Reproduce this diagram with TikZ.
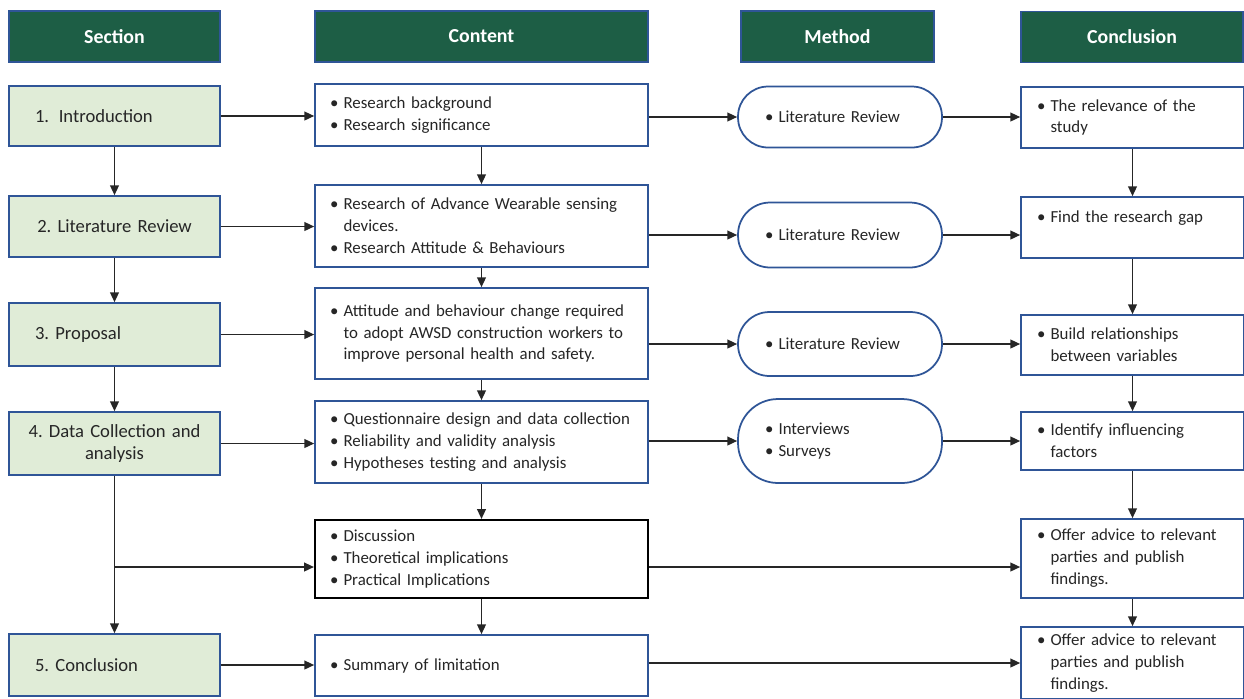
\documentclass[tikz,border=0pt]{standalone}
\usepackage{fontspec}
\setmainfont{Carlito}
\usetikzlibrary{arrows.meta,positioning}
\definecolor{hdrgreen}{HTML}{1D5E45}
\definecolor{secgreen}{HTML}{E0ECD7}
\definecolor{bordblue}{HTML}{2F5597}
\definecolor{txtgray}{HTML}{262626}
\newcommand{\bl}{\makebox[0.8em][l]{\textbullet}}
\newcommand{\ind}{\hspace*{0.8em}}
\frenchspacing
\begin{document}
\begin{tikzpicture}[x=0.02cm, y=-0.02cm,
  hdr/.style={draw=bordblue, line width=0.8pt, fill=hdrgreen, text=white, font=\fontsize{11.3}{13}\selectfont\bfseries, minimum height=1.02cm, inner sep=0pt},
  secbox/.style={draw=bordblue, line width=1pt, fill=secgreen, text=txtgray, font=\fontsize{10.6}{13}\selectfont, minimum width=4.22cm, text width=3.18cm, inner xsep=0.52cm, inner ysep=0pt, align=left},
  cntbox/.style={draw=bordblue, line width=1pt, fill=white, text=txtgray, font=\fontsize{9.6}{12.5}\selectfont, text width=6.06cm, inner xsep=0.3cm, inner ysep=0pt, align=left},
  mthbox/.style={draw=bordblue, line width=1pt, fill=white, text=txtgray, font=\fontsize{9.6}{12.5}\selectfont, text width=3cm, inner xsep=0.54cm, inner ysep=0pt, align=left},
  cncbox/.style={draw=bordblue, line width=1pt, fill=white, text=txtgray, font=\fontsize{9.6}{12.5}\selectfont, text width=3.82cm, inner xsep=0.32cm, inner ysep=0pt, align=left},
  arr/.style={-{Triangle[length=5.5pt,width=5pt]}, line width=0.7pt, draw=black!85}]
\useasboundingbox (0,0) rectangle (1244,698);
% headers
\node[hdr, minimum width=4.22cm] (hsec) at (114.5,36.5) {Section};
\node[hdr, minimum width=6.66cm] (hcnt) at (481.5,36.5) {Content};
\node[hdr, minimum width=3.86cm] (hmth) at (837.5,36.5) {Method};
\node[hdr, minimum width=4.44cm] (hcnc) at (1132,37) {Conclusion};
% section column
\node[secbox, minimum height=1.2cm] (s1) at (114.5,116) {1.\hspace{5.5pt}Introduction};
\node[secbox, align=center, minimum height=1.22cm] (s2) at (114.5,226.5) {2. Literature Review};
\node[secbox, minimum height=1.26cm] (s3) at (114.5,334.5) {3. Proposal};
\node[secbox, align=center, text width=3.8cm, inner xsep=0.21cm, minimum height=1.26cm] (s4) at (114.5,443.5) {4. Data Collection and\\analysis};
\node[secbox, minimum height=1.24cm] (s5) at (114.5,665) {5. Conclusion};
\coordinate (br) at (114.5,567);
% content column
\node[cntbox, minimum height=1.24cm] (c1) at (481.5,115) {\bl Research background\\\bl Research significance};
\node[cntbox, minimum height=1.64cm] (c2) at (481.5,226) {\bl Research of Advance Wearable sensing\\\ind devices.\\\bl Research Attitude \& Behaviours};
\node[cntbox, minimum height=1.82cm] (c3) at (481.5,333.5) {\bl Attitude and behaviour change required\\\ind to adopt AWSD construction workers to\\\ind improve personal health and safety.};
\node[cntbox, minimum height=1.64cm] (c4) at (481.5,442) {\bl Questionnaire design and data collection\\\bl Reliability and validity analysis\\\bl Hypotheses testing and analysis};
\node[cntbox, draw=black, line width=1.3pt, minimum height=1.56cm] (c5) at (481.5,559) {\bl Discussion\\\bl Theoretical implications\\\bl Practical Implications};
\node[cntbox, minimum height=1.22cm] (c6) at (481.5,665.5) {\bl Summary of limitation};
% method column
\node[mthbox, rounded corners=0.6cm, minimum height=1.22cm] (m1) at (840,117) {\bl Literature Review};
\node[mthbox, rounded corners=0.64cm, minimum height=1.3cm] (m2) at (840,235) {\bl Literature Review};
\node[mthbox, rounded corners=0.63cm, minimum height=1.28cm] (m3) at (840,344) {\bl Literature Review};
\node[mthbox, rounded corners=0.8cm, minimum height=1.68cm] (m4) at (840,441) {\bl Interviews\\\bl Surveys};
% conclusion column
\node[cncbox, minimum height=1.22cm] (k1) at (1132.5,117.5) {\bl The relevance of the\\\ind study};
\node[cncbox, minimum height=1.22cm] (k2) at (1132.5,227.5) {\bl Find the research gap\\\mbox{}};
\node[cncbox, minimum height=1.2cm] (k3) at (1132.5,345) {\bl Build relationships\\\ind between variables};
\node[cncbox, minimum height=1.16cm] (k4) at (1132.5,441) {\bl Identify influencing\\\ind factors};
\node[cncbox, minimum height=1.58cm] (k5) at (1132.5,558.5) {\bl Offer advice to relevant\\\ind parties and publish\\\ind findings.};
\node[cncbox, minimum height=1.44cm] (k6) at (1132.5,663) {\bl Offer advice to relevant\\\ind parties and publish\\\ind findings.};
% vertical flow
\draw[arr] (s1) -- (s2);
\draw[arr] (s2) -- (s3);
\draw[arr] (s3) -- (s4);
\draw[arr] (s4) -- (s5);
\draw[arr] (c1) -- (c2);
\draw[arr] (c2) -- (c3);
\draw[arr] (c3) -- (c4);
\draw[arr] (c4) -- (c5);
\draw[arr] (c5) -- (c6);
\draw[arr] (k1) -- (k2);
\draw[arr] (k2) -- (k3);
\draw[arr] (k3) -- (k4);
\draw[arr] (k4) -- (k5);
\draw[arr] (k5) -- (k6);
% rows
\draw[arr] (s1) -- (s1 -| c1.west);
\draw[arr] (c1.east |- m1) -- (m1);
\draw[arr] (m1) -- (m1 -| k1.west);
\draw[arr] (s2) -- (s2 -| c2.west);
\draw[arr] (c2.east |- m2) -- (m2);
\draw[arr] (m2) -- (m2 -| k2.west);
\draw[arr] (s3) -- (s3 -| c3.west);
\draw[arr] (c3.east |- m3) -- (m3);
\draw[arr] (m3) -- (m3 -| k3.west);
\draw[arr] (s4) -- (s4 -| c4.west);
\draw[arr] (c4.east |- m4) -- (m4);
\draw[arr] (m4) -- (m4 -| k4.west);
\draw[arr] (br) -- (br -| c5.west);
\draw[arr] (c5.east |- br) -- (br -| k5.west);
\draw[arr] (s5) -- (s5 -| c6.west);
\draw[arr] (c6.east |- k6) -- (k6);
\end{tikzpicture}
\end{document}
